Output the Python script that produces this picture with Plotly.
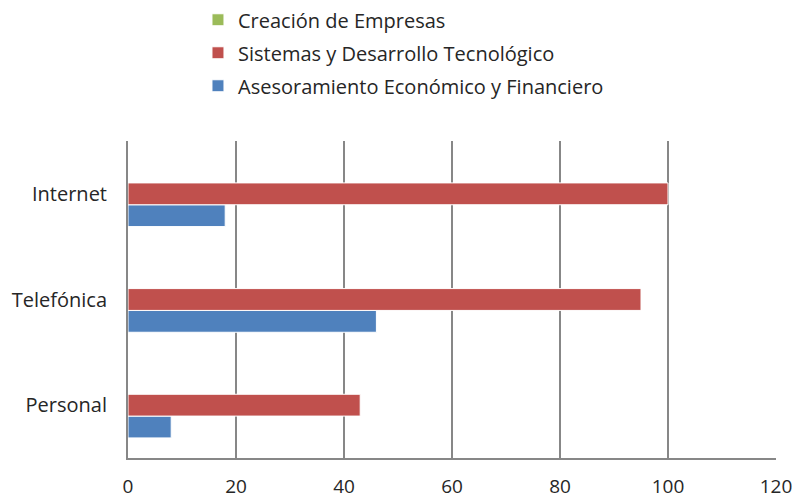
import plotly.graph_objects as go

categories = ["Personal", "Telefónica", "Internet"]
series_names = ["Asesoramiento Económico y Financiero",
                "Sistemas y Desarrollo Tecnológico",
                "Creación de Empresas"]
asesoramiento = [8, 46, 18]
sistemas = [43, 95, 100]
creacion = [0, 0, 0]
colors = ["#4F81BD", "#C0504D", "#9BBB59"]
legend_ranks = [3, 2, 1]
x_ticks = [0, 20, 40, 60, 80, 100, 120]

FONT = "Open Sans"
TXT = "#262626"
FS = 20

fig = go.Figure()
for name, vals, col, rank in zip(series_names, [asesoramiento, sistemas, creacion], colors, legend_ranks):
    fig.add_trace(go.Bar(
        y=categories, x=vals, name=name, orientation="h",
        marker=dict(color=col, line=dict(color="#FFFFFF", width=1)),
        legendgroup=name, legendrank=rank,
    ))

fig.update_layout(
    width=795, height=501,
    margin=dict(l=128, r=19, t=141, b=43, autoexpand=False),
    paper_bgcolor="white", plot_bgcolor="white",
    barmode="group", bargap=0.38, bargroupgap=0,
    font=dict(family=FONT, size=FS, color=TXT),
    showlegend=True,
    legend=dict(
        x=0.108, xanchor="left", y=1.444, yanchor="top",
        traceorder="grouped", tracegroupgap=4,
        font=dict(family=FONT, size=FS, color=TXT),
        bgcolor="rgba(0,0,0,0)",
    ),
    xaxis=dict(
        range=[0, 120], tickvals=x_ticks, ticktext=[str(v) for v in x_ticks],
        showgrid=True, gridcolor="#878787", gridwidth=2,
        showline=True, linecolor="#878787", linewidth=2,
        zeroline=False, ticks="", ticklabelstandoff=10,
        tickfont=dict(family=FONT, size=19, color=TXT),
        fixedrange=True,
    ),
    yaxis=dict(
        categoryorder="array", categoryarray=categories,
        showgrid=False, showline=True, linecolor="#878787", linewidth=2,
        ticks="", ticklabelstandoff=15,
        tickfont=dict(family=FONT, size=FS, color=TXT),
        fixedrange=True,
    ),
)

fig.write_html("out.html", config={"displayModeBar": False},
               post_script="document.body.style.margin='0px';")
